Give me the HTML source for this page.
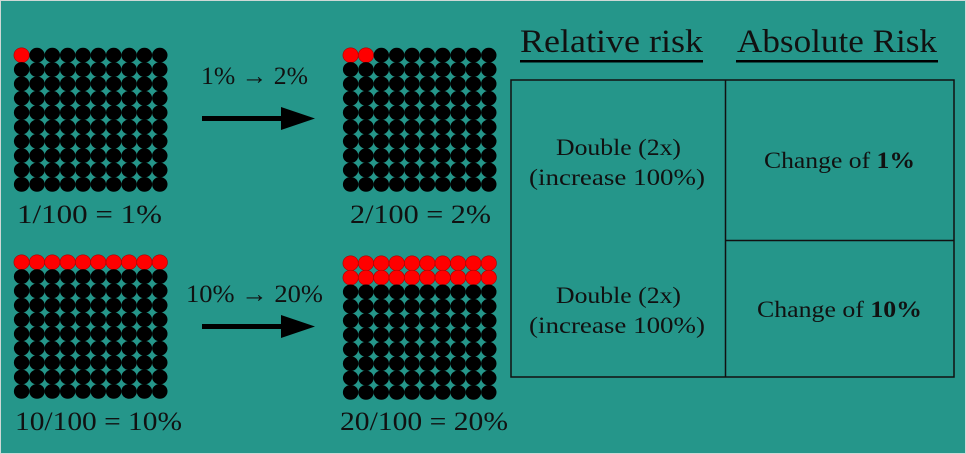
<!DOCTYPE html>
<html><head><meta charset="utf-8"><style>
html,body{margin:0;padding:0;background:#fff}
svg{display:block}
text{font-family:"Liberation Serif",serif;fill:#111}
</style></head><body>
<svg id="s" width="966" height="454" viewBox="0 0 966 454" xmlns="http://www.w3.org/2000/svg">
<rect x="0.5" y="0.5" width="965" height="453" fill="#25968a" stroke="#cfd8d6"/>
<g id="dots"></g>
<rect x="202" y="116" width="84" height="5" fill="#000"/>
<polygon points="281,107 315,118.5 281,130" fill="#000"/>
<rect x="202" y="324" width="84" height="5" fill="#000"/>
<polygon points="281,315 315,326.5 281,338" fill="#000"/>
<g lengthAdjust="spacingAndGlyphs">
<text x="201" y="84" font-size="25" textLength="107" lengthAdjust="spacingAndGlyphs">1% → 2%</text>
<text x="186" y="302" font-size="25" textLength="137" lengthAdjust="spacingAndGlyphs">10% → 20%</text>
<text x="17" y="223" font-size="26" textLength="145" lengthAdjust="spacingAndGlyphs">1/100 = 1%</text>
<text x="350" y="223" font-size="26" textLength="141" lengthAdjust="spacingAndGlyphs">2/100 = 2%</text>
<text x="15" y="430" font-size="26" textLength="167" lengthAdjust="spacingAndGlyphs">10/100 = 10%</text>
<text x="340" y="430" font-size="26" textLength="168" lengthAdjust="spacingAndGlyphs">20/100 = 20%</text>
<text x="520" y="52" font-size="33" textLength="183" lengthAdjust="spacingAndGlyphs">Relative risk</text>
<text x="737" y="52" font-size="33" textLength="200" lengthAdjust="spacingAndGlyphs">Absolute Risk</text>
</g>
<rect x="520" y="60" width="183" height="2.5" fill="#000"/>
<rect x="736" y="60" width="202" height="2.5" fill="#000"/>
<g fill="none" stroke="#111" stroke-width="1.5">
<rect x="511" y="80" width="443" height="297"/>
<line x1="725.5" y1="80" x2="725.5" y2="377"/>
<line x1="725.5" y1="240.5" x2="954" y2="240.5"/>
</g>
<g font-size="23">
<text x="556" y="155" textLength="125" lengthAdjust="spacingAndGlyphs">Double (2x)</text>
<text x="529" y="185" textLength="176" lengthAdjust="spacingAndGlyphs">(increase 100%)</text>
<text x="556" y="303" textLength="125" lengthAdjust="spacingAndGlyphs">Double (2x)</text>
<text x="529" y="333" textLength="176" lengthAdjust="spacingAndGlyphs">(increase 100%)</text>
<text x="764" y="168" textLength="151" lengthAdjust="spacingAndGlyphs">Change of <tspan font-weight="bold">1%</tspan></text>
<text x="757" y="317" textLength="165" lengthAdjust="spacingAndGlyphs">Change of <tspan font-weight="bold">10%</tspan></text>
</g>
</svg>
<script>
var g=document.getElementById('dots'),h='';
function grid(x0,y0,red){for(var r=0;r<10;r++)for(var c=0;c<10;c++){var i=r*10+c;
h+='<ellipse cx="'+(x0+7.6+c*15.35).toFixed(1)+'" cy="'+(y0+7.2+r*14.35).toFixed(1)+'" rx="7.7" ry="7.4" fill="'+(i<red?'#f00':'#000')+'" stroke="'+(i<red?'#a00':'none')+'" stroke-width="0.6"/>';}}
grid(14,48,1);grid(343,48,2);grid(14,255,10);grid(343,256,20);
g.innerHTML=h;
</script>
</body></html>
